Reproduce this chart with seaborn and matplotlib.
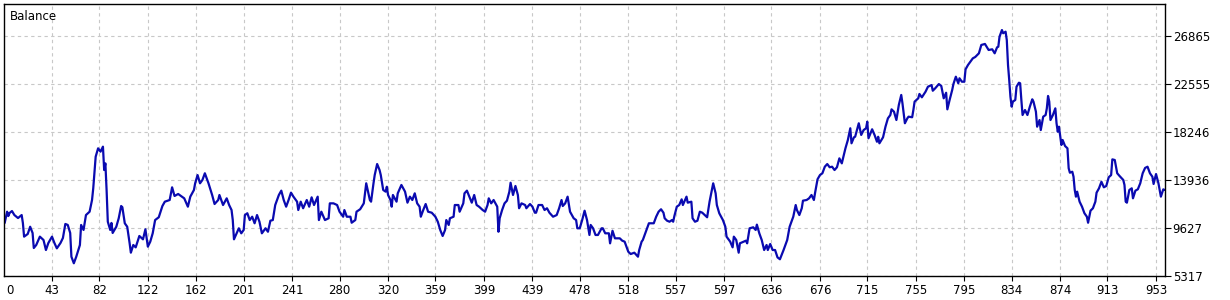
import matplotlib
matplotlib.use("Agg")
import matplotlib.pyplot as plt
import pandas as pd
import seaborn as sns

# ---- data (trade number, balance) ----
A_t = [4,6,7,8,10,12,15,18,19,20,23,25,27,28,30,33,36,38,40,43,45,47,50,52,54,56,58,59,61,63,66,67,69,71,74,76,77,79,81,83,85,86,87,88,89,91,92,93,96,98,100,101,103,105,107,108,110,112,115,118,120,122,124,126,128,131,134,136,140]
A_b = [10080,11090,10700,10970,11150,10790,10520,10790,10080,8850,9090,9740,9180,7830,8100,8850,8550,7650,8280,8850,8280,7800,8280,8730,9990,9900,9180,7050,6460,7050,8100,9900,9450,10790,11090,12140,13190,16030,16780,16480,16930,14830,15430,13040,10190,9450,10080,9180,9740,10500,11600,11490,10050,9740,8250,7410,8100,7890,8910,8610,9510,7950,8400,9150,10340,10590,11600,11990,12140]

B_t = [142,144,147,150,152,155,157,160,161,163,165,167,169,172,175,177,180,181,184,187,189,191,192,193,197,199,201,202,204,206,208,210,212,214,216,219,221,223,225,227,230,232,234,236,238,240,242,245,246,248,250,253,255,257,259,262,263,265,268,271,272,275]
B_b = [13280,12500,12680,12440,12290,11540,12440,13040,13640,14380,13640,13940,14540,13640,12590,11780,12140,12590,11690,12290,11690,11240,10340,8610,9600,9150,9450,10790,10950,10340,10640,10050,10790,10190,9150,9600,9290,10280,10340,11690,12590,12980,12140,11540,12140,12800,12440,11990,11240,11990,11400,12140,11540,12380,11690,12440,10340,11090,10340,10500,11840,11840]

C_t = [278,280,283,284,286,289,290,293,294,297,300,302,305,306,308,309,311,313,314,316,318,319,320,322,323,324,327,328,331,334,336,338,340,342,344,346,347,349,351,353,356,359,361,363,365,367,368,370,371,374,375,378,379,382,383,385,387,389,391,393,395,398,400,402,403,405,407,410,411]
C_b = [11690,11090,10640,11240,10640,10640,10100,10340,11090,11310,11840,13640,12140,11990,13640,14380,15370,14830,14380,13040,12890,13330,12590,12140,11540,12590,11990,12740,13490,12890,11900,12440,12140,12740,11840,11540,10640,11240,11780,11090,11000,10640,10190,9450,8910,9450,10340,9900,10500,10640,11690,11690,11090,11840,12740,12980,12440,11900,12590,11690,11540,11240,11090,11690,12290,11840,12140,11540,9290]

D_t = [412,414,416,418,420,421,423,425,427,428,430,433,434,437,439,441,442,444,447,449,451,453,456,459,461,463,464,466,468,470,473,475,476,478,480,482,484,486,487,489,491,493,496,497,499,502,503,505,507,511,513,515,518,520,523,526,527,529,530,532,535,537,539,541,543,545,547,548]
D_b = [10500,11240,11840,12080,12890,13690,12590,13400,12590,11400,11840,11690,11400,11780,11540,11000,11000,11690,11690,11240,11400,11000,10640,10790,11400,12140,11600,11840,12440,11090,10500,10340,9600,9600,10340,11180,10340,9000,9900,9600,9000,9000,9600,9600,9150,9150,8250,9380,8700,8700,8490,8400,7500,7290,7410,7050,7650,8400,8550,9150,10050,10050,10050,10640,11090,11310,11000,10500]

E_t = [550,552,554,555,556,558,560,562,563,566,567,570,571,573,575,577,579,581,583,585,587,588,590,591,593,596,598,599,602,604,605,607,609,610,613,615,616,618,621,623,624,626,628,630,632,633,635,637,639,641,643,645,646,649,651,653,654,656,657,659,661,662,665,667,669,671,672,674,676,678,680,682]
E_b = [10280,10190,10340,10190,10700,11540,11690,12200,11690,12440,11900,11990,10500,10190,10280,11090,11000,10790,10590,11990,13100,13640,12740,11690,10950,10340,9740,8850,8400,7890,8850,8550,7410,8250,8400,8490,8250,9600,9690,9450,9930,9150,8550,7650,8100,7650,8190,7650,7650,6990,6820,7360,7650,8550,9740,10340,10640,11690,11240,10790,11400,12080,12140,12290,12590,12140,12800,14000,14380,14540,15130,15370]

F_t = [684,686,688,690,692,694,696,697,699,701,702,704,705,708,710,712,714,715,716,719,721,723,724,725,728,730,732,734,735,737,739,741,743,744,746,748,749,752,753,754,757,758,760,763,765,768,769,771,774,776,778,780,781,783,785,786,788,790,791,793,795,796,798,800,802,804,807,809,812,815,818,820,822,823,824,826,827,829]
F_b = [15080,15130,14830,15080,15880,15430,16330,16780,17530,18580,17230,17770,17820,19030,17980,18420,18580,19170,17680,18490,17980,17370,17820,17230,17770,18720,19470,19770,20280,20070,19320,20670,21570,20820,19030,19470,19620,19570,20220,20970,21270,21660,21360,21860,22310,22460,21950,22170,22550,22380,21270,21770,20280,21180,22020,22550,23210,22620,23070,22760,22760,23870,24260,24560,24860,24980,25310,26060,26150,25610,25670,25310,25850,25900,26800,27400,27110,27250]

G_t = [830,831,832,833,834,835,837,838,840,841,842,843,845,847,849,851,852,854,855,857,858,860,862,863,864,865,866,868,870,871,872,873,875,876,878,880,881,882,884,885,886,887,888,890,892,894,896,897,899,901,903,904,906,908,910,912,914,916,917,919,921,923,926,927,928,929,931,933,934,936,938,940,942,944,946,948,950,951,953,955,957,959,960]
G_b = [26500,24260,22910,21410,20520,20970,21120,22310,22670,22620,21120,19770,20220,19770,20520,21180,20970,20070,18720,19320,18420,19620,19770,20370,21480,20970,19320,19770,20370,19030,18270,18720,17080,17530,16990,16780,14990,14590,14680,14230,13040,12440,12890,11990,11540,10950,10640,10100,11180,11400,11990,12800,13190,13780,13280,13400,14180,14380,15790,15730,14540,14290,13940,13490,11990,11900,13040,13190,12290,12980,13100,13640,14540,15020,15130,14540,14230,13580,14470,13640,12440,13100,13040]

x_tick_values = [43, 82, 122, 162, 201, 241, 280, 320, 359, 399, 439, 478, 518, 557, 597, 636, 676, 715, 755, 795, 834, 874, 913, 953]
y_tick_values = [5317, 9627, 13936, 18246, 22555, 26865]
title_text = "Balance"

trades = A_t + B_t + C_t + D_t + E_t + F_t + G_t
balance = A_b + B_b + C_b + D_b + E_b + F_b + G_b
df = pd.DataFrame({"trade": trades, "balance": balance})

sns.set_style("white")
plt.rcParams["font.family"] = ["DejaVu Sans"]

W, H = 1230, 300
fig = plt.figure(figsize=(W / 100, H / 100), dpi=100)
ax = fig.add_axes([4 / W, 24 / H, 1161 / W, 272 / H])

sns.lineplot(data=df, x="trade", y="balance", estimator=None, sort=False,
             color="#0A0AB0", linewidth=1.6, ax=ax)

ax.set_xlim(3.44, 960.4)
ax.set_ylim(5317, 29737)

ax.set_xticks([8.4] + x_tick_values)
ax.set_xticklabels(["0"] + [str(v) for v in x_tick_values])
ax.set_yticks(y_tick_values)
ax.set_yticklabels([str(v) for v in y_tick_values])

ax.yaxis.tick_right()
ax.tick_params(axis="y", which="major", direction="out", length=4, width=0.8,
               pad=1.5, labelsize=8.5, colors="black", right=True, left=False)
ax.tick_params(axis="x", which="major", direction="out", length=3.5, width=0.8,
               pad=2, labelsize=8.5, colors="black", bottom=True)

ax.set_axisbelow(True)
ax.grid(True, color="#C8C8C8", linestyle=(0, (3, 3)), linewidth=0.8)

first = ax.xaxis.get_major_ticks()[0]
first.tick1line.set_visible(False)
first.gridline.set_visible(False)

for s in ax.spines.values():
    s.set_visible(True)
    s.set_color("black")
    s.set_linewidth(1.0)

ax.set_xlabel("")
ax.set_ylabel("")

fig.text(10 / W, 1 - 17 / H, title_text, ha="left", va="center",
         fontsize=8.5, color="black")

fig.savefig("out.png", dpi=100)
